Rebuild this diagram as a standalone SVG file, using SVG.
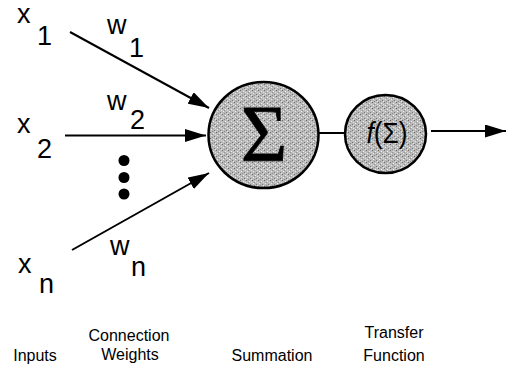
<svg xmlns="http://www.w3.org/2000/svg" width="507" height="367" viewBox="0 0 507 367">
<style>
.v{font-family:"Liberation Sans",Arial,sans-serif;font-size:27px;fill:#000}
.lab{font-family:"Liberation Sans",Arial,sans-serif;font-size:16px;fill:#000;text-anchor:middle}
.node{stroke:#000;stroke-width:2.5;fill:url(#stip)}
.conn{stroke:#000;stroke-width:2;fill:none}
</style>
<defs>
<marker id="ah" markerUnits="userSpaceOnUse" markerWidth="21" markerHeight="13" refX="21" refY="6.5" orient="auto">
<path d="M0,0 L21,6.5 L0,13 z" fill="#000"/>
</marker>
<pattern id="stip" width="6" height="6" patternUnits="userSpaceOnUse">
<rect width="6" height="6" fill="#bababa"/>
<rect x="0" y="0" width="1" height="1" fill="#666666"/>
<rect x="3" y="1" width="1" height="1" fill="#f0f0f0"/>
<rect x="1" y="3" width="1" height="1" fill="#eeeeee"/>
<rect x="4" y="4" width="1" height="1" fill="#777777"/>
<rect x="2" y="5" width="1" height="1" fill="#8a8a8a"/>
<rect x="5" y="2" width="1" height="1" fill="#e0e0e0"/>
<rect x="2" y="2" width="1" height="1" fill="#909090"/>
<rect x="5" y="5" width="1" height="1" fill="#e8e8e8"/>
</pattern>
</defs>
<g id="connectors">
<line class="conn" x1="70" y1="32" x2="209" y2="108" marker-end="url(#ah)"/>
<line class="conn" x1="65" y1="135.5" x2="206" y2="135.5" marker-end="url(#ah)"/>
<line class="conn" x1="72" y1="250" x2="209" y2="173" marker-end="url(#ah)"/>
<line class="conn" x1="319" y1="133" x2="345" y2="133"/>
<line class="conn" x1="431" y1="131" x2="506" y2="131" marker-end="url(#ah)"/>
</g>
<g id="x1"><text class="v" x="17" y="23">x</text><text class="v" x="37" y="45">1</text></g>
<g id="x2"><text class="v" x="17" y="133">x</text><text class="v" x="37" y="158">2</text></g>
<g id="xn"><text class="v" x="18" y="273">x</text><text class="v" x="39" y="293">n</text></g>
<g id="w1"><text class="v" x="107" y="34">w</text><text class="v" x="129" y="57">1</text></g>
<g id="w2"><text class="v" x="107" y="110">w</text><text class="v" x="130" y="129">2</text></g>
<g id="wn"><text class="v" x="110" y="255">w</text><text class="v" x="131" y="276">n</text></g>
<g id="dots">
<circle cx="124" cy="160.5" r="5.5"/>
<circle cx="124" cy="177.5" r="5.5"/>
<circle cx="124" cy="194" r="5.5"/>
</g>
<g id="summation">
<ellipse class="node" cx="263.5" cy="135" rx="55" ry="53"/>
<text x="264" y="161" font-family="Liberation Serif,'Times New Roman',serif" font-size="80" text-anchor="middle" stroke="#000" stroke-width="0.8">Σ</text>
</g>
<g id="transfer">
<ellipse class="node" cx="385.5" cy="134" rx="40.5" ry="39"/>
<text x="387" y="143" font-family="Liberation Sans,Arial,sans-serif" font-size="30" text-anchor="middle" textLength="41" lengthAdjust="spacingAndGlyphs"><tspan font-style="italic">f</tspan>(Σ)</text>
</g>
<g id="labels">
<text class="lab" x="35" y="361">Inputs</text>
<text class="lab" x="129" y="341">Connection</text>
<text class="lab" x="130" y="360">Weights</text>
<text class="lab" x="272" y="361">Summation</text>
<text class="lab" x="394" y="338">Transfer</text>
<text class="lab" x="394" y="361">Function</text>
</g>
</svg>
